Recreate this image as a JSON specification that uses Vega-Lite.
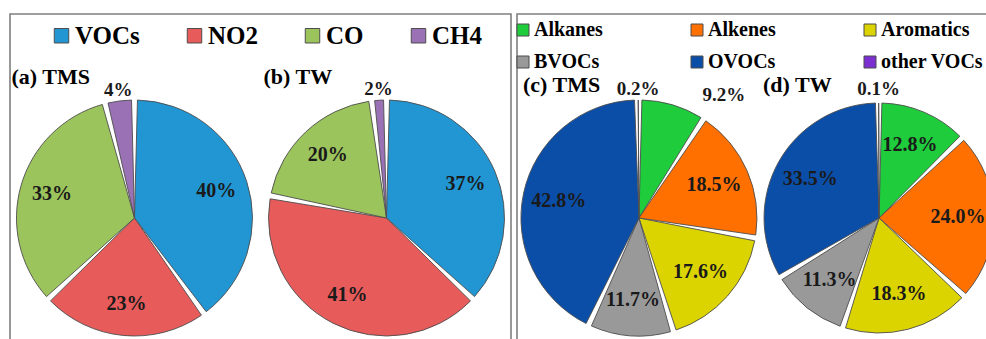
{
  "$schema": "https://vega.github.io/schema/vega-lite/v6.json",
  "padding": {"left": 9, "top": 13, "right": -8, "bottom": -82},
  "spacing": 0,
  "background": "white",
  "config": {
    "font": "Liberation Serif",
    "view": {"stroke": "#7f7f7f", "strokeWidth": 1.6}
  },
  "resolve": {"scale": {"color": "independent"}},
  "hconcat": [
    {
      "width": 501,
      "height": 408,
      "data": {
        "values": [
          {"panel": "(a) TMS", "category": "VOCs", "value": 0.40, "rank": 1},
          {"panel": "(a) TMS", "category": "NO2", "value": 0.23, "rank": 2},
          {"panel": "(a) TMS", "category": "CO", "value": 0.33, "rank": 3},
          {"panel": "(a) TMS", "category": "CH4", "value": 0.04, "rank": 4},
          {"panel": "(b) TW", "category": "VOCs", "value": 0.37, "rank": 1},
          {"panel": "(b) TW", "category": "NO2", "value": 0.41, "rank": 2},
          {"panel": "(b) TW", "category": "CO", "value": 0.20, "rank": 3},
          {"panel": "(b) TW", "category": "CH4", "value": 0.02, "rank": 4}
        ]
      },
      "encoding": {
        "x": {"field": "panel", "type": "nominal", "axis": null, "scale": {"type": "point", "padding": 0.494}}
      },
      "layer": [
        {
          "transform": [{"filter": "datum.panel == '(a) TMS'"}],
          "encoding": {
            "theta": {"field": "value", "type": "quantitative", "stack": true, "scale": {"domain": [0, 1]}},
            "order": {"field": "rank", "type": "quantitative"}
          },
          "layer": [
            {
              "mark": {"type": "arc", "radius": 118, "padAngle": 0.05, "stroke": "#4d4d4d", "strokeWidth": 0.9},
              "encoding": {
                "color": {
                  "field": "category",
                  "type": "nominal",
                  "scale": {
                    "domain": ["VOCs", "NO2", "CO", "CH4"],
                    "range": ["#2196D3", "#E75B5B", "#9CC45C", "#9B71B6"]
                  },
                  "legend": {
                    "title": null,
                    "orient": "none",
                    "legendX": 39,
                    "legendY": 9,
                    "direction": "horizontal",
                    "columns": 4,
                    "columnPadding": 42,
                    "symbolType": "square",
                    "symbolSize": 210,
                    "symbolStrokeColor": "#3a3a3a",
                    "symbolStrokeWidth": 1,
                    "labelFont": "Liberation Serif",
                    "labelFontSize": 25,
                    "labelFontWeight": "bold",
                    "labelColor": "#000000",
                    "labelOffset": 1
                  }
                }
              }
            },
            {
              "mark": {"type": "text", "radius": 86, "font": "Liberation Serif", "fontSize": 20, "fontWeight": "bold", "color": "#1a1a1a"},
              "encoding": {
                "detail": {"field": "category", "type": "nominal"},
                "text": {"condition": {"test": "datum.value >= 0.1", "field": "value", "type": "quantitative", "format": ".0%"}, "value": ""}
              }
            },
            {
              "mark": {"type": "text", "radius": 129, "font": "Liberation Serif", "fontSize": 19, "fontWeight": "bold", "color": "#1a1a1a"},
              "encoding": {
                "detail": {"field": "category", "type": "nominal"},
                "text": {"condition": {"test": "datum.value < 0.1", "field": "value", "type": "quantitative", "format": ".0%"}, "value": ""}
              }
            }
          ]
        },
        {
          "transform": [{"filter": "datum.panel == '(b) TW'"}],
          "encoding": {
            "theta": {"field": "value", "type": "quantitative", "stack": true, "scale": {"domain": [0, 1]}},
            "order": {"field": "rank", "type": "quantitative"}
          },
          "layer": [
            {
              "mark": {"type": "arc", "radius": 118, "padAngle": 0.05, "stroke": "#4d4d4d", "strokeWidth": 0.9},
              "encoding": {
                "color": {"field": "category", "type": "nominal"}
              }
            },
            {
              "mark": {"type": "text", "radius": 86, "font": "Liberation Serif", "fontSize": 20, "fontWeight": "bold", "color": "#1a1a1a"},
              "encoding": {
                "detail": {"field": "category", "type": "nominal"},
                "text": {"condition": {"test": "datum.value >= 0.1", "field": "value", "type": "quantitative", "format": ".0%"}, "value": ""}
              }
            },
            {
              "mark": {"type": "text", "radius": 129, "font": "Liberation Serif", "fontSize": 19, "fontWeight": "bold", "color": "#1a1a1a"},
              "encoding": {
                "detail": {"field": "category", "type": "nominal"},
                "text": {"condition": {"test": "datum.value < 0.1", "field": "value", "type": "quantitative", "format": ".0%"}, "value": ""}
              }
            }
          ]
        },
        {
          "transform": [{"filter": "datum.rank == 1"}],
          "mark": {"type": "text", "align": "left", "baseline": "middle", "dx": -123, "dy": -141, "font": "Liberation Serif", "fontSize": 22, "fontWeight": "bold", "color": "#000000"},
          "encoding": {
            "text": {"field": "panel", "type": "nominal"}
          }
        }
      ]
    },
    {
      "width": 484,
      "height": 408,
      "data": {
        "values": [
          {"panel": "(c) TMS", "category": "Alkanes", "value": 0.092, "rank": 1},
          {"panel": "(c) TMS", "category": "Alkenes", "value": 0.185, "rank": 2},
          {"panel": "(c) TMS", "category": "Aromatics", "value": 0.176, "rank": 3},
          {"panel": "(c) TMS", "category": "BVOCs", "value": 0.117, "rank": 4},
          {"panel": "(c) TMS", "category": "OVOCs", "value": 0.428, "rank": 5},
          {"panel": "(c) TMS", "category": "other VOCs", "value": 0.002, "rank": 6},
          {"panel": "(d) TW", "category": "Alkanes", "value": 0.128, "rank": 1},
          {"panel": "(d) TW", "category": "Alkenes", "value": 0.240, "rank": 2},
          {"panel": "(d) TW", "category": "Aromatics", "value": 0.183, "rank": 3},
          {"panel": "(d) TW", "category": "BVOCs", "value": 0.113, "rank": 4},
          {"panel": "(d) TW", "category": "OVOCs", "value": 0.335, "rank": 5},
          {"panel": "(d) TW", "category": "other VOCs", "value": 0.001, "rank": 6}
        ]
      },
      "encoding": {
        "x": {"field": "panel", "type": "nominal", "axis": null, "scale": {"type": "point", "padding": 0.508}}
      },
      "layer": [
        {
          "transform": [{"filter": "datum.panel == '(c) TMS'"}],
          "encoding": {
            "theta": {"field": "value", "type": "quantitative", "stack": true, "scale": {"domain": [0, 1]}},
            "order": {"field": "rank", "type": "quantitative"}
          },
          "layer": [
            {
              "mark": {"type": "arc", "radius": 118, "padAngle": 0.05, "stroke": "#4d4d4d", "strokeWidth": 0.9},
              "encoding": {
                "color": {
                  "field": "category",
                  "type": "nominal",
                  "scale": {
                    "domain": ["Alkanes", "Alkenes", "Aromatics", "BVOCs", "OVOCs", "other VOCs"],
                    "range": ["#1ECC3C", "#FF7000", "#DCD400", "#999999", "#0B4EA8", "#7B2FD1"]
                  },
                  "legend": {
                    "title": null,
                    "orient": "none",
                    "legendX": -4,
                    "legendY": 6,
                    "direction": "horizontal",
                    "columns": 3,
                    "columnPadding": 84,
                    "rowPadding": 12,
                    "symbolType": "square",
                    "symbolSize": 144,
                    "symbolStrokeColor": "#3a3a3a",
                    "symbolStrokeWidth": 1,
                    "labelFont": "Liberation Serif",
                    "labelFontSize": 20,
                    "labelFontWeight": "bold",
                    "labelColor": "#000000",
                    "labelOffset": 1
                  }
                }
              }
            },
            {
              "mark": {"type": "text", "radius": 82, "font": "Liberation Serif", "fontSize": 20, "fontWeight": "bold", "color": "#1a1a1a"},
              "encoding": {
                "detail": {"field": "category", "type": "nominal"},
                "text": {"condition": {"test": "datum.value >= 0.1", "field": "value", "type": "quantitative", "format": ".1%"}, "value": ""}
              }
            },
            {
              "mark": {"type": "text", "radius": 129, "font": "Liberation Serif", "fontSize": 19, "fontWeight": "bold", "color": "#1a1a1a"},
              "encoding": {
                "detail": {"field": "category", "type": "nominal"},
                "text": {"condition": {"test": "datum.value < 0.05", "field": "value", "type": "quantitative", "format": ".1%"}, "value": ""}
              }
            },
            {
              "mark": {"type": "text", "radius": 128, "align": "left", "dx": 27, "font": "Liberation Serif", "fontSize": 19, "fontWeight": "bold", "color": "#1a1a1a"},
              "encoding": {
                "detail": {"field": "category", "type": "nominal"},
                "text": {"condition": {"test": "datum.value >= 0.05 && datum.value < 0.1", "field": "value", "type": "quantitative", "format": ".1%"}, "value": ""}
              }
            }
          ]
        },
        {
          "transform": [{"filter": "datum.panel == '(d) TW'"}],
          "encoding": {
            "theta": {"field": "value", "type": "quantitative", "stack": true, "scale": {"domain": [0, 1]}},
            "order": {"field": "rank", "type": "quantitative"}
          },
          "layer": [
            {
              "mark": {"type": "arc", "radius": 115, "padAngle": 0.05, "stroke": "#4d4d4d", "strokeWidth": 0.9},
              "encoding": {
                "color": {"field": "category", "type": "nominal"}
              }
            },
            {
              "mark": {"type": "text", "radius": 79, "font": "Liberation Serif", "fontSize": 20, "fontWeight": "bold", "color": "#1a1a1a"},
              "encoding": {
                "detail": {"field": "category", "type": "nominal"},
                "text": {"condition": {"test": "datum.value >= 0.1", "field": "value", "type": "quantitative", "format": ".1%"}, "value": ""}
              }
            },
            {
              "mark": {"type": "text", "radius": 129, "font": "Liberation Serif", "fontSize": 19, "fontWeight": "bold", "color": "#1a1a1a"},
              "encoding": {
                "detail": {"field": "category", "type": "nominal"},
                "text": {"condition": {"test": "datum.value < 0.05", "field": "value", "type": "quantitative", "format": ".1%"}, "value": ""}
              }
            }
          ]
        },
        {
          "transform": [{"filter": "datum.rank == 1"}],
          "mark": {"type": "text", "align": "left", "baseline": "middle", "dx": -116, "dy": -133, "font": "Liberation Serif", "fontSize": 22, "fontWeight": "bold", "color": "#000000"},
          "encoding": {
            "text": {"field": "panel", "type": "nominal"}
          }
        }
      ]
    }
  ]
}
